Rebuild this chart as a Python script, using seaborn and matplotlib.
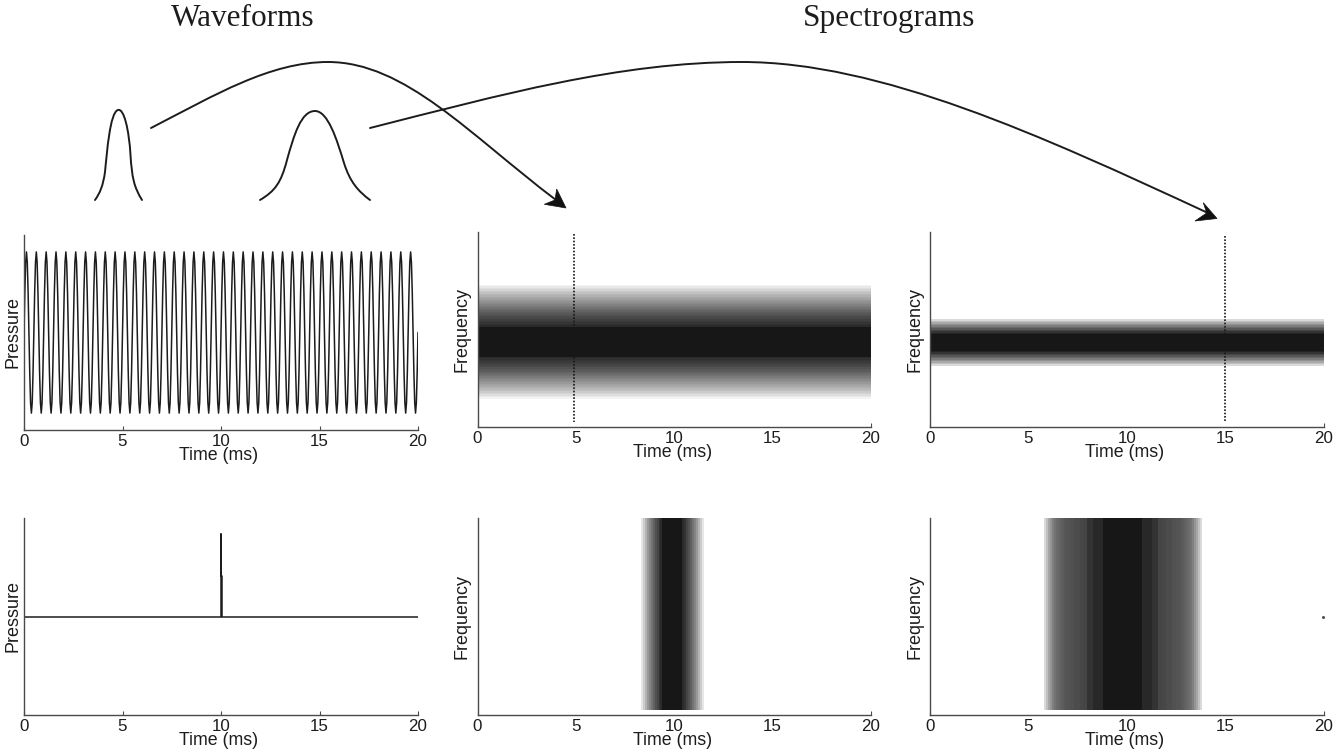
# -*- coding: utf-8 -*-
# Waveforms and spectrograms of a tone and a click, two analysis windows
import numpy as np
import pandas as pd
import matplotlib.pyplot as plt
import seaborn as sns
from matplotlib.patches import FancyArrowPatch, Polygon
from matplotlib.path import Path

# ============================================================
# DATA
# ============================================================
tick_values = [0, 5, 10, 15, 20]
n_time = 200     # spectrogram cells along time, 0.1 ms each
n_freq = 130     # spectrogram cells along frequency
ms_per_cell = 0.1

# tone: one period, 40 periods in 20 ms
tone_cycle = [0, 0.5, 0.87, 1, 0.87, 0.5, 0, -0.5, -0.87, -1, -0.87, -0.5]
tone_pressure = tone_cycle * 40 + [0]
tone_time = [i * 0.5 / len(tone_cycle) for i in range(len(tone_pressure))]

# click
click_time = [0, 9.98, 9.98, 10.0, 10.0, 10.03, 10.03, 20]
click_pressure = [0, 0, 1.0, 1.0, 0.49, 0.49, 0, 0]

# grey levels of the bands, edge to centre (1 = white, 0 = black)
wide_band_edge = [0.95, 0.91, 0.87, 0.83, 0.79, 0.75, 0.72, 0.69, 0.66, 0.63,
                  0.60, 0.57, 0.54, 0.51, 0.48, 0.45, 0.42, 0.39, 0.36, 0.34,
                  0.32, 0.29, 0.27, 0.25, 0.23, 0.21, 0.19, 0.17]
wide_band_core = [0.09] * 20
wide_band_first_row = 35

narrow_band_edge = [0.85, 0.75, 0.66, 0.57, 0.49, 0.41, 0.34, 0.27, 0.20, 0.14]
narrow_band_core = [0.09] * 11
narrow_band_first_row = 58

short_win_edge = [0.90, 0.80, 0.70, 0.60, 0.52, 0.45, 0.38, 0.32, 0.27, 0.20, 0.17]
short_win_core = [0.09] * 10
short_win_first_col = 83

long_win_edge = [0.85, 0.75, 0.65, 0.58, 0.50, 0.45, 0.42, 0.40, 0.38, 0.36,
                 0.34, 0.33, 0.33, 0.32, 0.32, 0.30, 0.30, 0.30, 0.28, 0.28,
                 0.27, 0.27, 0.20, 0.20, 0.20, 0.16, 0.16, 0.16, 0.16, 0.16]
long_win_core = [0.09] * 20
long_win_first_col = 58

# dotted markers, in ms
marker_wide = 4.9
marker_narrow = 15.0

# sketches above the panels, figure pixels (curve control points)
pulse1_verts = [(95, 200), (100, 193), (103, 186), (105, 172), (107, 152), (110, 112), (118, 110),
                (124, 108), (129, 130), (130.5, 155), (132, 178), (134, 187), (142, 200)]
pulse2_verts = [(260, 200), (275, 191), (281, 183), (287, 160), (294, 135), (301, 111), (315, 111),
                (328, 111), (337, 140), (344, 163), (350, 182), (358, 191), (370, 200)]

arrow1_verts = [(151, 128), (215, 95), (270, 62), (328, 62), (405, 62), (470, 135), (556, 200)]
arrow1_head = [(566, 208), (556.7, 189), (555, 200), (544.3, 204.3)]
arrow2_verts = [(370, 128), (500, 95), (620, 62), (742, 62), (880, 62), (1040, 135), (1208, 213)]
arrow2_head = [(1217, 218.5), (1203.3, 202.7), (1206.7, 213), (1195, 221)]

# ============================================================
# STYLE
# ============================================================
sns.set_style('white')
plt.rcParams['font.family'] = ['Liberation Sans', 'DejaVu Sans']

W, H = 1340, 753
INK = '#1c1c1c'
AXIS = '#4a4a4a'
fig = plt.figure(figsize=(W / 100, H / 100), dpi=100)


def make_axes(left, right, top, bottom):
    return fig.add_axes([left / W, 1 - bottom / H, (right - left) / W, (bottom - top) / H])


def finish(ax, ylabel, label_x):
    sns.despine(ax=ax)
    for side in ['left', 'bottom']:
        ax.spines[side].set_visible(True)
        ax.spines[side].set_color(AXIS)
        ax.spines[side].set_linewidth(1.0)
    ax.tick_params(axis='x', direction='in', length=3, width=0.8, color=AXIS, pad=3,
                   labelsize=12.2, labelcolor=INK, bottom=True)
    ax.set_yticks([])
    ax.set_xlabel('Time (ms)', fontsize=12.8, color=INK, labelpad=-1.5)
    ax.xaxis.label.set_x(0.495)
    ax.set_ylabel(ylabel, fontsize=13, color=INK)
    ax.yaxis.set_label_coords(label_x, 0.5)


def wave_panel(box, time, pressure, ylim):
    ax = make_axes(*box)
    df = pd.DataFrame({'t': time, 'p': pressure})
    sns.lineplot(data=df, x='t', y='p', estimator=None, sort=False, color=INK,
                 linewidth=1.1, ax=ax)
    ax.set_xlim(0, 20)
    ax.set_ylim(*ylim)
    ax.set_xticks(tick_values)
    ax.set_xticklabels([str(v) for v in tick_values])
    finish(ax, 'Pressure', -0.007)
    return ax


def spec_panel(box, cells):
    ax = make_axes(*box)
    sns.heatmap(pd.DataFrame(cells), cmap='gray', vmin=0, vmax=1, cbar=False,
                xticklabels=False, yticklabels=False, linewidths=0, rasterized=True, ax=ax)
    ax.set_xticks([v / ms_per_cell for v in tick_values])
    ax.set_xticklabels([str(v) for v in tick_values], rotation=0)
    finish(ax, 'Frequency', -0.017)
    return ax


def freq_cells(edge, core, first_row):
    profile = np.array(edge + core + edge[::-1])
    cells = np.ones((n_freq, n_time))
    cells[first_row:first_row + len(profile), :] = profile[:, None]
    return cells


def time_cells(edge, core, first_col):
    profile = np.array(edge + core + edge[::-1])
    cells = np.ones((n_freq, n_time))
    cells[:n_freq - 3, first_col:first_col + len(profile)] = profile
    return cells


# ============================================================
# PANELS
# ============================================================
wave_panel((24, 418, 235, 430), tone_time, tone_pressure, (-1.21, 1.21))
wave_panel((24, 418, 518, 715), click_time, click_pressure, (-1.19, 1.19))

ax = spec_panel((477.5, 871, 232, 427), freq_cells(wide_band_edge, wide_band_core, wide_band_first_row))
ax.plot([marker_wide / ms_per_cell] * 2, [1.3, 126.7], color='#171717', linestyle=(0, (1, 1)), linewidth=1.2)

ax = spec_panel((930, 1323.5, 232, 427), freq_cells(narrow_band_edge, narrow_band_core, narrow_band_first_row))
ax.plot([marker_narrow / ms_per_cell] * 2, [2.7, 126.7], color='#171717', linestyle=(0, (1, 1)), linewidth=1.2)

spec_panel((477.5, 871, 518, 715), time_cells(short_win_edge, short_win_core, short_win_first_col))

ax = spec_panel((930, 1323.5, 518, 715), time_cells(long_win_edge, long_win_core, long_win_first_col))
ax.plot([199.5], [65], marker='s', markersize=1, color=AXIS)

# ============================================================
# OVERLAY: TITLES, PULSE SKETCHES, ARROWS
# ============================================================
over = fig.add_axes([0, 0, 1, 1], facecolor='none')
over.set_xlim(0, W)
over.set_ylim(H, 0)
over.axis('off')

for verts in [pulse1_verts, pulse2_verts, arrow1_verts, arrow2_verts]:
    codes = [Path.MOVETO] + [Path.CURVE4] * (len(verts) - 1)
    over.add_patch(FancyArrowPatch(path=Path(verts, codes), arrowstyle='-',
                                   color=INK, linewidth=1.4, shrinkA=0, shrinkB=0))
for head in [arrow1_head, arrow2_head]:
    over.add_patch(Polygon(head, closed=True, facecolor='#111111', edgecolor='#111111', linewidth=0.5))

for label, cx in [('Waveforms', 243), ('Spectrograms', 889)]:
    over.text(cx, 26, label, ha='center', va='baseline', color=INK, fontsize=22.5,
              family=['Liberation Serif', 'DejaVu Serif'])

fig.savefig('out.png', dpi=100, facecolor='white')
plt.close(fig)
